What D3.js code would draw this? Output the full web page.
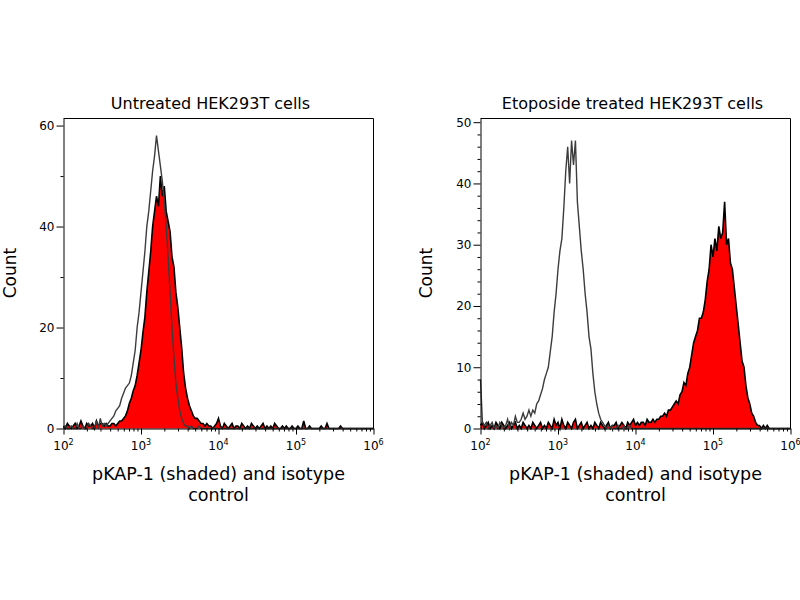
<!DOCTYPE html>
<html>
<head>
<meta charset="utf-8">
<script src="https://cdn.jsdelivr.net/npm/d3@7"></script>
<style>
body { margin: 0; background: #fff; }
text { font-family: "DejaVu Sans", Verdana, sans-serif; fill: #000; }
</style>
</head>
<body>
<svg id="chart" width="800" height="600"></svg>
<script>
// channel i sits at 10^(binStart + i*binStep), 161 channels from 10^2 to 10^6
var binStart = 2, binStep = 0.025;
var decades = [1e2, 1e3, 1e4, 1e5, 1e6];

var titles = ["Untreated HEK293T cells", "Etoposide treated HEK293T cells"];
var xLabel = ["pKAP-1 (shaded) and isotype", "control"];
var yLabel = "Count";

// untreated: pKAP-1 (red) and isotype (grey)
var untreatedKap = [
  0.5,0,1,0.5,0,0.5,1,0,0.5,1.5,0.5,0,1,0.5,0.5,1,0,1.5,0.5,1,
  1,0.5,1,0.5,0.5,1,1,0.5,1,1.5,1.5,2,2.5,3.5,5,6,7.5,8.5,10.5,13,
  15.5,19,22,27,31,35,40,43,46,44,50,46,48,43,41,39,34,32,27,24,
  20,16,11,8,6,4.5,3.5,2.5,2,2,1.5,1,1,0.5,1,0.5,0.5,0,0.5,1,
  2,0.5,0,1,0.5,0,0.5,1,0,0.5,0.5,0,1,0.5,0,0.5,0,1,0.5,0,
  0.5,0,0.5,1,0,0.5,0,0.5,0,1,0.5,0,0,0.5,0,0.5,0,0,0.5,0,
  0,0.5,0,0,1.5,0,0,0.5,0,0,0,0,0,0.5,0,0,1,0,0,0,
  0,0,0,0.5,0,0,0,0,0,0,0,0,0,0,0,0,0,0,0,0,
  0
];
var untreatedIso = [
  0,0.5,0,0,0.5,0,0,1,0,0,0.5,0,0,1,0.5,0,0,1.5,0,2,
  0.5,1,0.5,1,1.5,2,2.5,3.5,4,4.5,6,7,8,8.5,9,10.5,13,15.5,20,23,
  27,31,35,40,43,47,51,54,58,55,52,49,45,40,34,27,20,14,9,6,
  3.5,2,1,0.5,0.5,0,0.5,0,0,0,0.5,0,0,0,0,0,0,0,0,0,
  0,0,0,0,0,0,0,0,0,0,0,0,0,0,0,0,0,0,0,0,
  0,0,0,0,0,0,0,0,0,0,0,0,0,0,0,0,0,0,0,0,
  0,0,0,0,0,0,0,0,0,0,0,0,0,0,0,0,0,0,0,0,
  0,0,0,0,0,0,0,0,0,0,0,0,0,0,0,0,0,0,0,0,
  0
];

// etoposide treated
var treatedKap = [
  0.5,1,0,0.5,1,0,0.5,0,1,0.5,0,1,0.5,0,0.5,1,0,0.5,1,0,
  0.5,0,1,0.5,0,0.5,0,1,0.5,0,0.5,1,0,0.5,0,1,0.5,0,1.5,0.5,
  1,0,1.5,0.5,0,1,0.5,0,1,1.5,0,0.5,1,0,0.5,1,0,0.5,0,1,
  0.5,0,1,0.5,0,0.5,1,0,0.5,0.5,1,0,0.5,1,0.5,0,1,0.5,1,1.5,
  0.5,1,0.5,1,1,0.5,1.5,1,1,1.5,1,1.5,1.5,2,2,2.5,2,3,3,3.5,
  4,4.5,4,5.5,6,7.5,7,9,10,12,14,15,16,18,18,19,21,24,26,30,
  28,31,29,33,31,32,37,30,31,27,26,23,20,17,14,11,10,7,5,4,
  2.5,2,1,0.5,0.5,0,0.5,0,0.5,0,0,0,0,0,0,0,0,0,0,0,
  0
];
var treatedIso = [
  8,1,0.5,1,0,0.5,1,0,0.5,0,1,0.5,0,0.5,1.5,0,1,0.5,2,1,
  1,1.5,2.5,1.5,2,3,2,3,2.5,4,4.5,5.5,6.5,8,9,10,12.5,15,19,22,
  26,29,31,36,42,46,40,47,43,47,37,33,29,26,22,19,15,13,9,6,
  4,2.5,1.5,1,0.5,0,0.5,0,0.5,0,0,0.5,0,0,0.5,0,0,0.5,0,0,
  0,0,0,0,0,0,0,0,0,0,0,0,0,0,0,0,0,0,0,0,
  0,0,0,0,0,0,0,0,0,0,0,0,0,0,0,0,0,0,0,0,
  0,0,0,0,0,0,0,0,0,0,0,0,0,0,0,0,0,0,0,0,
  0,0,0,0,0,0,0,0,0,0,0,0,0,0,0,0,0,0,0,0,
  0
];

var untreatedYTicks = [0, 20, 40, 60], untreatedYMinor = [10, 30, 50];
var treatedYTicks = [0, 10, 20, 30, 40, 50],
    treatedYMinor = [2,4,6,8,12,14,16,18,22,24,26,28,32,34,36,38,42,44,46,48];

var svg = d3.select("#chart");

var minorX = [];
decades.slice(0, 4).forEach(function(d) {
    for (var k = 2; k < 10; k++) minorX.push(d * k);
});

var panels = [
    {title: titles[0], kap: untreatedKap, iso: untreatedIso, left: 63.5, right: 373.5,
     yTop: 61.4, yTicks: untreatedYTicks, yMinor: untreatedYMinor, countX: 16, titleShift: -8},
    {title: titles[1], kap: treatedKap, iso: treatedIso, left: 480.5, right: 790.5,
     yTop: 50.6, yTicks: treatedYTicks, yMinor: treatedYMinor, countX: 432, titleShift: -3}
];

panels.forEach(drawPanel);

function drawPanel(p) {
    var g = svg.append("g");
    var x = d3.scaleLog().domain([1e2, 1e6]).range([p.left, p.right]);
    var y = d3.scaleLinear().domain([0, p.yTop]).range([428.5, 118.5]);
    var cx = (p.left + p.right) / 2;

    function toPoint(v, i) { return {x: Math.pow(10, binStart + i * binStep), y: v}; }
    var kap = p.kap.map(toPoint),
        iso = p.iso.map(toPoint);

    var area = d3.area().x(function(d) { return x(d.x); }).y0(y(0)).y1(function(d) { return y(d.y); });
    var line = d3.line().x(function(d) { return x(d.x); }).y(function(d) { return y(d.y); });

    g.append("path").datum(kap).attr("d", area).attr("fill", "#ff0000");
    g.append("path").datum(kap).attr("d", line)
        .attr("fill", "none").attr("stroke", "#000").attr("stroke-width", 1.6);
    g.append("path").datum(iso).attr("d", line)
        .attr("fill", "none").attr("stroke", "#3c3c3c").attr("stroke-width", 1.4);

    // top and right border
    g.append("path")
        .attr("d", "M" + p.left + "," + y(p.yTop) + "H" + p.right + "V" + y(0))
        .attr("fill", "none").attr("stroke", "#000");

    // y axis
    var ya = g.append("g").attr("transform", "translate(" + p.left + ",0)")
        .call(d3.axisLeft(y).tickValues(p.yTicks).tickSize(7).tickSizeOuter(0).tickPadding(2));
    ya.selectAll("text").attr("font-family", null).style("font-size", "12px");
    g.append("g").attr("transform", "translate(" + p.left + ",0)")
        .call(d3.axisLeft(y).tickValues(p.yMinor).tickSize(3).tickFormat(""))
        .select(".domain").remove();

    // x axis
    g.append("g").attr("transform", "translate(0," + y(0) + ")")
        .call(d3.axisBottom(x).tickValues(decades).tickSize(6).tickSizeOuter(0).tickFormat(""));
    g.append("g").attr("transform", "translate(0," + y(0) + ")")
        .call(d3.axisBottom(x).tickValues(minorX).tickSize(3).tickFormat(""))
        .select(".domain").remove();

    var lab = g.selectAll(".xlab").data(decades).enter().append("text")
        .attr("class", "xlab")
        .attr("x", function(d) { return x(d); })
        .attr("y", 450)
        .attr("text-anchor", "middle")
        .style("font-size", "12px");
    lab.append("tspan").text("10");
    lab.append("tspan").attr("dy", -5).style("font-size", "8px")
        .text(function(d) { return Math.round(Math.log10(d)); });

    // titles and labels
    g.append("text").attr("x", cx + p.titleShift).attr("y", 109)
        .attr("text-anchor", "middle").style("font-size", "16px").text(p.title);
    g.selectAll(".xtitle").data(xLabel).enter().append("text")
        .attr("x", cx).attr("y", function(d, i) { return 480 + i * 21; })
        .attr("text-anchor", "middle").style("font-size", "17.5px").text(function(d) { return d; });
    g.append("text")
        .attr("transform", "translate(" + p.countX + ",273) rotate(-90)")
        .attr("text-anchor", "middle").style("font-size", "17px").text(yLabel);
}
</script>
</body>
</html>
